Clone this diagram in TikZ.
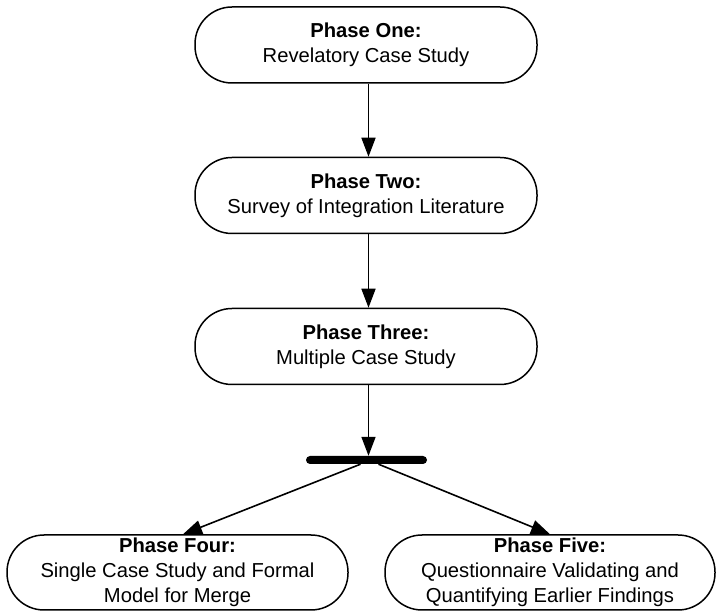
\documentclass[tikz,border=0pt]{standalone}
\usepackage{fontspec}
\setmainfont{Liberation Sans}
\usetikzlibrary{arrows.meta,calc}
\begin{document}
\begin{tikzpicture}[x=1pt,y=-1pt,
  phase/.style={draw=black, line width=1.5pt, rounded corners=37pt, align=center,
    inner sep=0pt, font=\fontsize{20.2}{25}\selectfont},
  arr/.style={line width=1.6pt, -{Triangle[length=19pt,width=14pt]}}]
\useasboundingbox (0,0) rectangle (716,612);
\node[phase, minimum width=342pt, minimum height=76pt] (p1) at (366,45)
  {\textbf{Phase One:}\\Revelatory Case Study};
\node[phase, minimum width=342pt, minimum height=76pt] (p2) at (366,195.5)
  {\textbf{Phase Two:}\\Survey of Integration Literature};
\node[phase, minimum width=342pt, minimum height=76pt] (p3) at (366,346.5)
  {\textbf{Phase Three:}\\Multiple Case Study};
\node[fill=black, rounded corners=4pt, minimum width=121pt, minimum height=8pt, inner sep=0pt] (bar) at (366.5,460) {};
\node[phase, minimum width=341pt, minimum height=75pt] (p4) at (177.5,572.5)
  {\textbf{Phase Four:}\\Single Case Study and Formal\\Model for Merge};
\node[phase, minimum width=330pt, minimum height=75pt] (p5) at (550,572.5)
  {\textbf{Phase Five:}\\Questionnaire Validating and\\Quantifying Earlier Findings};
\draw[arr] ($(p1.south)+(2.5,0)$) -- ($(p2.north)+(2.5,0)$);
\draw[arr] ($(p2.south)+(2.5,0)$) -- ($(p3.north)+(2.5,0)$);
\draw[arr] ($(p3.south)+(2.5,0)$) -- ($(bar.north)+(2,0)$);
\draw[arr] ($(bar.south)+(-6,0)$) -- ($(p4.north)+(5.5,0)$);
\draw[arr] ($(bar.south)+(12,0)$) -- (p5.north);
\end{tikzpicture}
\end{document}
